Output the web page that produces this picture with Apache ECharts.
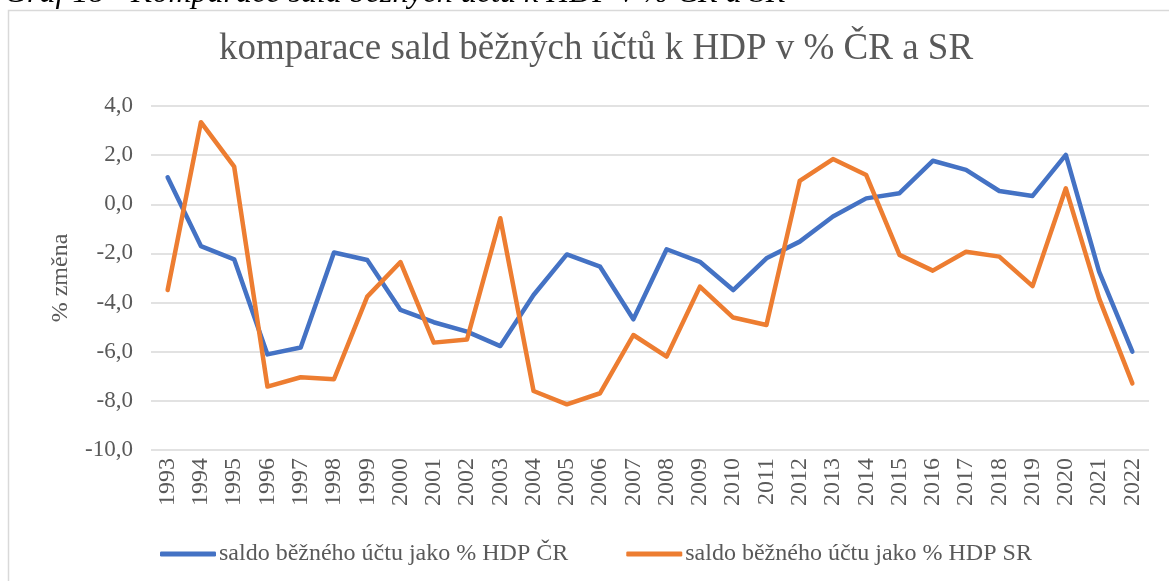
<!DOCTYPE html>
<html>
<head>
<meta charset="utf-8">
<script src="https://cdn.jsdelivr.net/npm/echarts@6/dist/echarts.min.js"></script>
<style>
  html, body { margin: 0; padding: 0; background: #fff; }
  #chart { width: 1169px; height: 581px; }
</style>
</head>
<body>
<div id="chart"></div>
<script>
const years = ['1993', '1994', '1995', '1996', '1997', '1998', '1999', '2000', '2001', '2002',
  '2003', '2004', '2005', '2006', '2007', '2008', '2009', '2010', '2011', '2012',
  '2013', '2014', '2015', '2016', '2017', '2018', '2019', '2020', '2021', '2022']

// saldo běžného účtu jako % HDP ČR
const saldoCR = [1.1, -1.7, -2.24, -6.11, -5.83, -1.96, -2.27, -4.3, -4.8, -5.18,
  -5.77, -3.69, -2.04, -2.54, -4.68, -1.83, -2.34, -3.49, -2.2, -1.52,
  -0.5, 0.24, 0.45, 1.77, 1.4, 0.54, 0.34, 2.01, -2.74, -6.0]

// saldo běžného účtu jako % HDP SR
const saldoSR = [-3.49, 3.34, 1.53, -7.42, -7.04, -7.12, -3.76, -2.35, -5.63, -5.5,
  -0.57, -7.6, -8.14, -7.69, -5.32, -6.2, -3.35, -4.61, -4.91, 0.95,
  1.84, 1.19, -2.06, -2.7, -1.93, -2.13, -3.33, 0.65, -3.83, -7.29]

const serif = '"Liberation Serif", "Times New Roman", serif'
const grey = '#595959'

let chart = echarts.init(document.getElementById('chart'))
chart.setOption({
  animation: false,
  textStyle: { fontFamily: serif },
  title: {
    text: 'komparace sald běžných účtů k HDP v % ČR a SR',
    left: 591,
    top: 26,
    textAlign: 'center',
    textStyle: { fontFamily: serif, fontWeight: 'normal', fontSize: 37, color: grey }
  },
  graphic: [
    {
      type: 'rect',
      shape: { x: 8.5, y: 10.5, width: 1200, height: 600 },
      style: { fill: 'none', stroke: '#d9d9d9', lineWidth: 1.5 },
      silent: true
    },
    {
      type: 'text',
      left: 4,
      top: -22,
      style: {
        text: 'Graf 18 - Komparace sald běžných účtů k HDP v % ČR a SR',
        font: 'italic 32px ' + serif,
        fill: '#000'
      }
    }
  ],
  grid: { left: 151, right: 20, top: 106, bottom: 131 },
  legend: {
    left: 155,
    top: 537,
    itemGap: 58,
    itemWidth: 56,
    itemHeight: 5,
    icon: 'roundRect',
    data: ['saldo běžného účtu jako % HDP ČR', 'saldo běžného účtu jako % HDP SR'],
    textStyle: { fontFamily: serif, fontSize: 24, color: grey, padding: [0, 0, 0, -2] }
  },
  xAxis: {
    type: 'category',
    data: years,
    boundaryGap: true,
    axisLine: { show: false },
    axisTick: { show: false },
    axisLabel: { rotate: 90, fontSize: 24, color: grey, margin: 8, fontFamily: serif }
  },
  yAxis: {
    type: 'value',
    min: -10,
    max: 4,
    interval: 2,
    name: '% změna',
    nameLocation: 'middle',
    nameGap: 78,
    nameTextStyle: { fontFamily: serif, fontSize: 24, color: grey },
    axisLabel: {
      fontSize: 23,
      color: grey,
      margin: 18,
      fontFamily: serif,
      formatter: v => v.toFixed(1).replace('.', ',')
    },
    splitLine: { lineStyle: { color: '#d9d9d9', width: 1.5 } }
  },
  series: [
    {
      name: 'saldo běžného účtu jako % HDP ČR',
      type: 'line',
      data: saldoCR,
      symbol: 'none',
      color: '#4472C4',
      lineStyle: { width: 4.5, cap: 'round', join: 'round' }
    },
    {
      name: 'saldo běžného účtu jako % HDP SR',
      type: 'line',
      data: saldoSR,
      symbol: 'none',
      color: '#ED7D31',
      lineStyle: { width: 4.5, cap: 'round', join: 'round' }
    }
  ]
})
</script>
</body>
</html>
